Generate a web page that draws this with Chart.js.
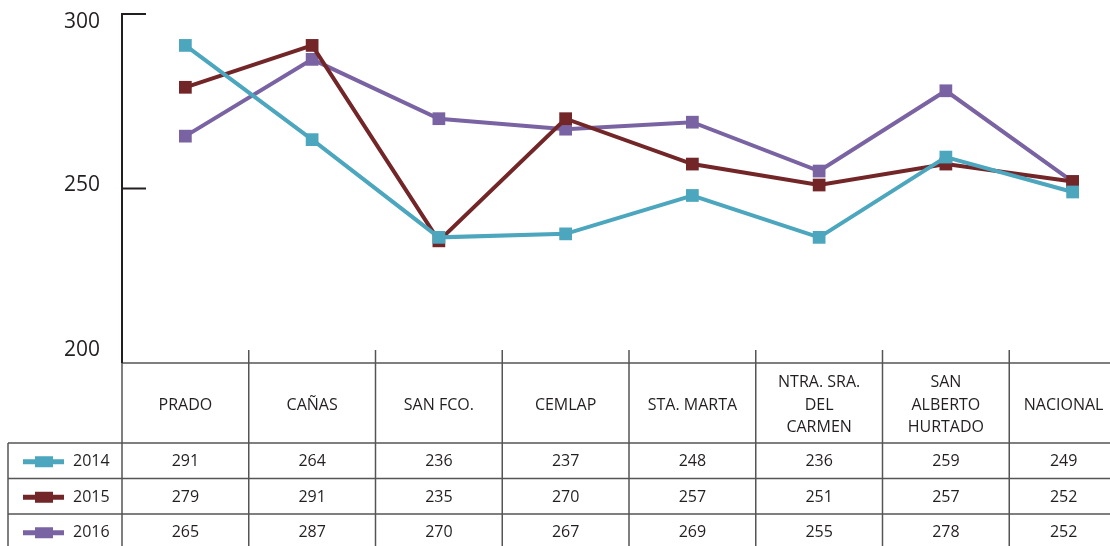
<!DOCTYPE html>
<html>
<head>
<meta charset="utf-8">
<script src="https://cdn.jsdelivr.net/npm/chart.js@4"></script>
<style>
    html, body { margin: 0; padding: 0; background: #fff; overflow: hidden; }
    canvas { display: block; }
</style>
</head>
<body>
<canvas id="resultsChart" width="1136" height="546"></canvas>
<script>
// Datos del gráfico
const categorias = [
    ['PRADO'], ['CAÑAS'], ['SAN FCO.'], ['CEMLAP'], ['STA. MARTA'],
    ['NTRA. SRA.', 'DEL', 'CARMEN'], ['SAN', 'ALBERTO', 'HURTADO'], ['NACIONAL']
];
const anios = ['2014', '2015', '2016'];
const valores2014 = [291, 264, 236, 237, 248, 236, 259, 249];
const valores2015 = [279, 291, 235, 270, 257, 251, 257, 252];
const valores2016 = [265, 287, 270, 267, 269, 255, 278, 252];
const ticksY = [200, 250, 300];
const colores = ['#4ba6be', '#722628', '#7a63a2'];

const series = [valores2014, valores2015, valores2016];
const FONT = '"Open Sans", "DejaVu Sans", sans-serif';

// Dibuja el eje Y, la tabla de datos y la leyenda dentro de la tabla
const tablaPlugin = {
    id: 'tablaDatos',
    afterDraw(chart) {
        const ctx = chart.ctx;
        const x = chart.scales.x;
        const y = chart.scales.y;
        const area = chart.chartArea;
        const bottomAxis = y.getPixelForValue(ticksY[0]);
        const n = categorias.length;

        ctx.save();

        // --- límites de columnas a partir de la escala ---
        const bordes = [area.left];
        for (let i = 0; i < n - 1; i++) {
            bordes.push((x.getPixelForValue(i) + x.getPixelForValue(i + 1)) / 2);
        }
        bordes.push(area.right);

        // centro de texto de cada celda (la última queda recortada por la ventana)
        const visibleRight = window.innerWidth + 8;
        const centros = categorias.map((_, i) =>
            (bordes[i] + Math.min(bordes[i + 1], visibleRight)) / 2);

        const headerBottom = bottomAxis + 80;
        const rowH = 35.5;
        const tableBottom = chart.height;
        const legendLeft = 8;

        ctx.strokeStyle = '#555';
        ctx.lineWidth = 1.5;

        // línea horizontal del eje X (encabezado)
        ctx.beginPath();
        ctx.moveTo(area.left, bottomAxis);
        ctx.lineTo(chart.width, bottomAxis);
        ctx.stroke();

        // líneas de filas
        for (let r = 0; r < anios.length; r++) {
            const yy = headerBottom + r * rowH;
            ctx.beginPath();
            ctx.moveTo(legendLeft, yy);
            ctx.lineTo(chart.width, yy);
            ctx.stroke();
        }

        // borde izquierdo de la leyenda
        ctx.beginPath();
        ctx.moveTo(legendLeft, headerBottom);
        ctx.lineTo(legendLeft, tableBottom);
        ctx.stroke();

        // líneas verticales de columnas (con marca corta sobre el eje)
        bordes.forEach((bx, i) => {
            ctx.beginPath();
            ctx.moveTo(bx, i === 0 ? bottomAxis : bottomAxis - 13);
            ctx.lineTo(bx, tableBottom);
            ctx.stroke();
        });

        // --- eje Y ---
        ctx.strokeStyle = '#231f20';
        ctx.lineWidth = 2;
        ctx.beginPath();
        ctx.moveTo(area.left, y.getPixelForValue(ticksY[ticksY.length - 1]) - 1);
        ctx.lineTo(area.left, bottomAxis);
        ctx.stroke();

        ctx.fillStyle = '#231f20';
        ctx.font = '21px ' + FONT;
        ctx.textAlign = 'right';
        ticksY.forEach((v, i) => {
            const py = y.getPixelForValue(v);
            if (i > 0) {
                ctx.beginPath();
                ctx.moveTo(area.left, py);
                ctx.lineTo(area.left + 24, py);
                ctx.stroke();
            }
            let ty;
            if (i === ticksY.length - 1) ty = py + 8;
            else if (i === 0) ty = py - 13;
            else ty = py - 3;
            ctx.textBaseline = 'middle';
            ctx.fillText(String(v), area.left - 22, ty);
        });

        // --- textos del encabezado ---
        ctx.font = '16px ' + FONT;
        ctx.textAlign = 'center';
        ctx.textBaseline = 'middle';
        const headerMid = bottomAxis + 42;
        categorias.forEach((lineas, i) => {
            const lh = 22.5;
            lineas.forEach((t, k) => {
                ctx.fillText(t, centros[i], headerMid + (k - (lineas.length - 1) / 2) * lh);
            });
        });

        // --- filas de valores ---
        series.forEach((valores, r) => {
            const cy = headerBottom + r * rowH + rowH / 2 + 1;
            valores.forEach((v, i) => {
                ctx.fillText(String(v), centros[i], cy);
            });

            // leyenda
            ctx.fillStyle = colores[r];
            ctx.fillRect(23, cy - 2.5, 41, 5);
            ctx.fillRect(35, cy - 5.5, 18, 11);
            ctx.fillStyle = '#231f20';
            ctx.textAlign = 'left';
            ctx.fillText(anios[r], 73, cy);
            ctx.textAlign = 'center';
        });

        ctx.restore();
    }
};

new Chart(document.getElementById('resultsChart').getContext('2d'), {
    type: 'line',
    data: {
        labels: categorias,
        datasets: anios.map((anio, i) => ({
            label: anio,
            data: series[i],
            borderColor: colores[i],
            backgroundColor: colores[i],
            borderWidth: 4,
            pointStyle: 'rect',
            pointRadius: 9,
            pointBorderWidth: 0,
            pointHoverRadius: 9,
            tension: 0,
            clip: false
        }))
    },
    options: {
        responsive: false,
        animation: false,
        layout: {
            autoPadding: false,
            padding: { left: 122, top: 14, right: 0, bottom: 183 }
        },
        scales: {
            x: { type: 'category', offset: true, display: false },
            y: { min: ticksY[0], max: ticksY[ticksY.length - 1], display: false }
        },
        plugins: {
            legend: { display: false },
            tooltip: { enabled: false }
        }
    },
    plugins: [tablaPlugin]
});
</script>
</body>
</html>
